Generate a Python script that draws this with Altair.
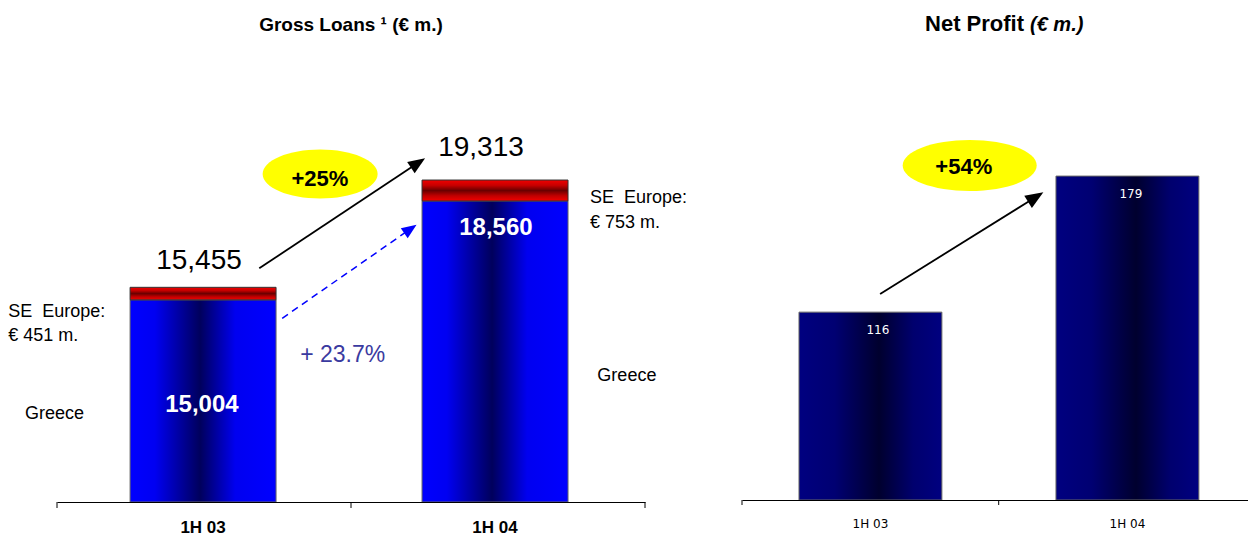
import math
import altair as alt
import pandas as pd

# ---------------- data ----------------
periods = ["1H 03", "1H 04"]
greece_loans = [15004, 18560]
se_europe_loans = [451, 753]
total_loans = [15455, 19313]
net_profit = [116, 179]

# boundaries between categories (in category units) used for the axis ticks
left_tick_u = [0, 1, 2]
right_tick_u = [0, 1]

# annotations, left panel: u = position in category units (0..2), v = EUR m.
total_label_text = ["15,455", "19,313"]
total_label_u = [0.483, 1.442]
total_label_v = [16114, 20177]

greece_label_text = ["15,004", "18,560"]
greece_label_u = [0.493, 1.493]
greece_label_v = [10961, 17336]

side_label_text = ["SE\u00a0 Europe:", "€ 451 m.", "Greece", "SE\u00a0 Europe:", "€ 753 m.", "Greece"]
side_label_u = [-0.166, -0.166, -0.109, 1.813, 1.813, 1.838]
side_label_v = [14377, 13514, 10720, 18487, 17577, 12097]

greece_growth_text = ["+ 23.7%"]
greece_growth_u = [0.827]
greece_growth_v = [12759]

loans_growth_text = ["+25%"]
loans_badge_u = [0.895]
loans_badge_v = [19530]
loans_growth_u = [0.894]
loans_growth_v = [19109]

loans_arrow = [(0.688, 16139), (1.252, 20095)]
greece_arrow = [(0.766, 14341), (1.223, 17707)]

# annotations, right panel
profit_growth_text = ["+54%"]
profit_badge_u = [0.887]
profit_badge_v = [183.9]
profit_growth_u = [0.864]
profit_growth_v = [180.0]
profit_arrow = [(0.538, 124.4), (1.174, 171.5)]

left_title = ["Gross Loans \u00b9 (€ m.)"]
left_title_u = [1.0]
right_title_a = ["Net Profit"]
right_title_a_u = [1.0986]
right_title_b = ["(€ m.)"]
right_title_b_u = [1.122]

# ---------------- layout / style ----------------
L_W, L_H = 588, 403
R_W, R_H = 506, 401
L_Y = [7735, 22227]
R_Y = [29, 214.7]
L_U = [0, 2]
R_U = [0, 1.9712]
FONT = "Liberation Sans"

def grad_h(stops):
    return alt.LinearGradient(gradient="linear", x1=0, x2=1, y1=0, y2=0,
                              stops=[alt.GradientStop(color=c, offset=o) for o, c in stops])

def grad_v(stops):
    return alt.LinearGradient(gradient="linear", x1=0, x2=0, y1=0, y2=1,
                              stops=[alt.GradientStop(color=c, offset=o) for o, c in stops])

GRAD_BLUE = grad_h([(0, "#0000ff"), (0.17, "#0000f2"), (0.48, "#00005c"), (0.72, "#0000f0"), (1, "#0000ff")])
GRAD_RED = grad_v([(0, "#f00000"), (0.25, "#c80000"), (0.5, "#6a0000"), (0.75, "#c00000"), (1, "#f20000")])
GRAD_NAVY = grad_h([(0, "#000080"), (0.25, "#000072"), (0.56, "#00002e"), (0.8, "#00006e"), (1, "#000080")])

HEAD = "M 0 0 L -1 -0.4 L -1 0.4 Z"


def ellipse(ratio):
    return f"M -1 0 A 1 {ratio} 0 1 1 1 0 A 1 {ratio} 0 1 1 -1 0 Z"


def uv(us, ys):
    return dict(x=alt.X("u:Q", scale=us, axis=None), y=alt.Y("v:Q", scale=ys, axis=None))


def text_layer(texts, u, v, us, ys, **kw):
    df = pd.DataFrame({"t": texts, "u": u, "v": v})
    return alt.Chart(df).mark_text(**kw).encode(text="t:N", **uv(us, ys))


def title_layer(texts, u, us, y, **kw):
    df = pd.DataFrame({"t": texts, "u": u})
    return alt.Chart(df).mark_text(**kw).encode(
        text="t:N", x=alt.X("u:Q", scale=us, axis=None), y=alt.value(y))


def arrow(pts, us, ys, pxu, pxv, color, width, head_len, dash=None):
    (u0, v0), (u1, v1) = pts
    dxp = (u1 - u0) * pxu
    dyp = -(v1 - v0) * pxv
    L = math.hypot(dxp, dyp)
    ang = math.degrees(math.atan2(dyp, dxp)) % 360
    back = head_len * 0.7
    ue = u1 - back * dxp / L / pxu
    ve = v1 + back * dyp / L / pxv
    line_df = pd.DataFrame({"u": [u0], "v": [v0], "u2": [ue], "v2": [ve]})
    kw = dict(color=color, strokeWidth=width)
    if dash:
        kw["strokeDash"] = dash
    line = alt.Chart(line_df).mark_rule(**kw).encode(
        x=alt.X("u:Q", scale=us, axis=None), x2="u2:Q",
        y=alt.Y("v:Q", scale=ys, axis=None), y2="v2:Q")
    head_df = pd.DataFrame({"u": [u1], "v": [v1]})
    head = alt.Chart(head_df).mark_point(
        shape=HEAD, filled=True, color=color, opacity=1, strokeWidth=0,
        size=4 * head_len ** 2, angle=ang).encode(**uv(us, ys))
    return [line, head]


def ticks_layer(ticks, us, h, ln):
    return alt.Chart(pd.DataFrame({"u": ticks})).mark_rule(color="black", strokeWidth=1).encode(
        x=alt.X("u:Q", scale=us, axis=None), y=alt.value(h), y2=alt.value(h + ln))

# ---------------- left panel: gross loans ----------------
loans_df = pd.DataFrame({"period": periods, "greece": greece_loans, "se": se_europe_loans})
ys_l = alt.Scale(domain=L_Y, zero=False, nice=False, clamp=True)
us_l = alt.Scale(domain=L_U, zero=False, nice=False)
xb_l = alt.Scale(paddingInner=0.5, paddingOuter=0.257, align=0.487)
pxu_l = L_W / (L_U[1] - L_U[0])
pxv_l = L_H / (L_Y[1] - L_Y[0])

greece_bar = alt.Chart(loans_df).mark_bar(color=GRAD_BLUE, stroke="#666666", strokeWidth=1).encode(
    x=alt.X("period:N", sort=periods, scale=xb_l,
            axis=alt.Axis(title=None, labelAngle=0, ticks=False, tickSize=0, domainColor="black",
                          domainWidth=1, labelFont=FONT, labelFontSize=17, labelFontWeight="bold",
                          labelColor="black", labelPadding=17.5, zindex=1)),
    y=alt.Y("greece:Q", scale=ys_l, axis=None))

se_bar = alt.Chart(loans_df).transform_calculate(total="datum.greece + datum.se").mark_bar(
    color=GRAD_RED, stroke="#333333", strokeWidth=1).encode(
    x=alt.X("period:N", sort=periods, scale=xb_l, axis=None),
    y=alt.Y("total:Q", scale=ys_l, axis=None), y2="greece:Q")

left_layers = [greece_bar, se_bar, ticks_layer(left_tick_u, us_l, L_H, 6)]
left_layers += arrow(greece_arrow, us_l, ys_l, pxu_l, pxv_l, "#0000ff", 1.5, 15, dash=[7, 5])
left_layers += arrow(loans_arrow, us_l, ys_l, pxu_l, pxv_l, "black", 1.8, 17)
left_layers.append(alt.Chart(pd.DataFrame({"u": loans_badge_u, "v": loans_badge_v})).mark_point(
    shape=ellipse(0.426), filled=True, color="#ffff00", opacity=1, strokeWidth=0, size=115 ** 2
).encode(**uv(us_l, ys_l)))
left_layers += [
    text_layer(loans_growth_text, loans_growth_u, loans_growth_v, us_l, ys_l, font=FONT, fontSize=22,
               fontWeight="bold", color="black", align="center", baseline="alphabetic"),
    text_layer(total_label_text, total_label_u, total_label_v, us_l, ys_l, font=FONT, fontSize=28,
               color="black", align="center", baseline="alphabetic"),
    text_layer(greece_label_text, greece_label_u, greece_label_v, us_l, ys_l, font=FONT, fontSize=24,
               fontWeight="bold", color="white", align="center", baseline="alphabetic"),
    text_layer(side_label_text, side_label_u, side_label_v, us_l, ys_l, font=FONT, fontSize=18,
               color="black", align="left", baseline="alphabetic"),
    text_layer(greece_growth_text, greece_growth_u, greece_growth_v, us_l, ys_l, font=FONT, fontSize=23,
               color="#3a3aa0", align="left", baseline="alphabetic"),
    title_layer(left_title, left_title_u, us_l, -68, font=FONT, fontSize=19, fontWeight="bold",
                color="black", align="center", baseline="alphabetic"),
]
left = alt.layer(*left_layers).resolve_scale(x="independent").properties(width=L_W, height=L_H)

# ---------------- right panel: net profit ----------------
profit_df = pd.DataFrame({"period": periods, "profit": net_profit})
ys_r = alt.Scale(domain=R_Y, zero=False, nice=False, clamp=True)
us_r = alt.Scale(domain=R_U, zero=False, nice=False)
xb_r = alt.Scale(paddingInner=0.444, paddingOuter=0.2065, align=0.537)
pxu_r = R_W / (R_U[1] - R_U[0])
pxv_r = R_H / (R_Y[1] - R_Y[0])

profit_bar = alt.Chart(profit_df).mark_bar(color=GRAD_NAVY, stroke="#666666", strokeWidth=1).encode(
    x=alt.X("period:N", sort=periods, scale=xb_r,
            axis=alt.Axis(title=None, labelAngle=0, ticks=False, tickSize=0, domainColor="black",
                          domainWidth=1, labelFont="DejaVu Sans", labelFontSize=12,
                          labelColor="black", labelPadding=18.5, zindex=1)),
    y=alt.Y("profit:Q", scale=ys_r, axis=None))

profit_text = alt.Chart(profit_df).mark_text(
    dy=18, baseline="middle", color="white", font="DejaVu Sans", fontSize=12).encode(
    x=alt.X("period:N", sort=periods, scale=xb_r, axis=None),
    y=alt.Y("profit:Q", scale=ys_r, axis=None), text="profit:Q")

right_layers = [profit_bar, profit_text, ticks_layer(right_tick_u, us_r, R_H, 5)]
right_layers += arrow(profit_arrow, us_r, ys_r, pxu_r, pxv_r, "black", 1.8, 18)
right_layers.append(alt.Chart(pd.DataFrame({"u": profit_badge_u, "v": profit_badge_v})).mark_point(
    shape=ellipse(0.38), filled=True, color="#ffff00", opacity=1, strokeWidth=0, size=134 ** 2
).encode(**uv(us_r, ys_r)))
right_layers += [
    text_layer(profit_growth_text, profit_growth_u, profit_growth_v, us_r, ys_r, font=FONT, fontSize=22,
               fontWeight="bold", color="black", align="center", baseline="alphabetic"),
    title_layer(right_title_a, right_title_a_u, us_r, -68, font=FONT, fontSize=22, fontWeight="bold",
                color="black", align="right", baseline="alphabetic"),
    title_layer(right_title_b, right_title_b_u, us_r, -68, font=FONT, fontSize=20, fontWeight="bold",
                fontStyle="italic", color="black", align="left", baseline="alphabetic"),
]
right = alt.layer(*right_layers).resolve_scale(x="independent").properties(width=R_W, height=R_H)

chart = alt.hconcat(left, right, spacing=97, bounds="flush").properties(
    padding={"left": 8, "top": 13, "right": 0, "bottom": 0}
).configure_view(strokeWidth=0)

chart.save("out.html", embed_options={"renderer": "svg", "actions": False})
